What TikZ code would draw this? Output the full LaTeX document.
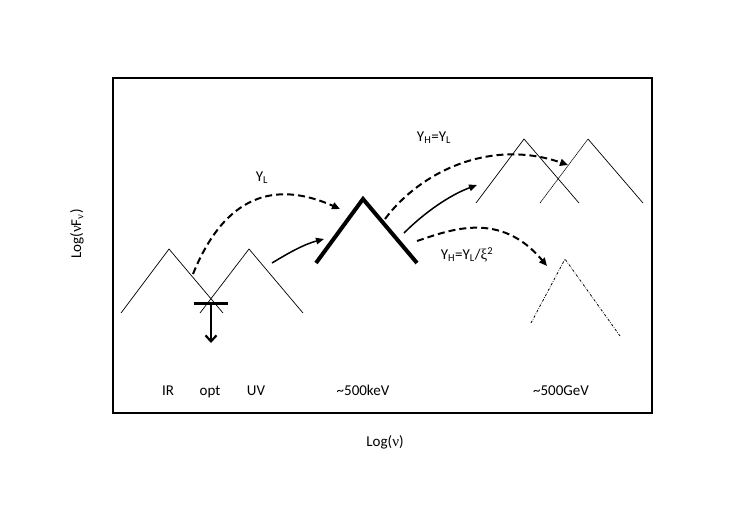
\documentclass[tikz,border=0pt]{standalone}
\usepackage{fontspec}
\setmainfont{Carlito}
\newfontfamily\grk{Liberation Serif}
\usetikzlibrary{arrows.meta}
\begin{document}
\begin{tikzpicture}[x=1pt,y=-1pt,
  lbl/.style={font=\fontsize{15}{18}\selectfont, inner sep=0pt},
  thinpeak/.style={line width=0.7pt},
  dasharrow/.style={line width=2pt, dash pattern=on 7pt off 4pt, -{Triangle[length=8pt,width=7pt]}},
  solarrow/.style={line width=1.5pt, -{Triangle[length=8pt,width=6.5pt]}}]
\useasboundingbox (0,0) rectangle (747,528);
\draw[line width=1.6pt] (113,78) rectangle (652,413);
% IR and UV peaks
\coordinate (irL) at (121,313); \coordinate (irT) at (169,249); \coordinate (irR) at (223,313);
\coordinate (uvL) at (200,313); \coordinate (uvT) at (249,249); \coordinate (uvR) at (303,313);
\draw[thinpeak] (irL) -- (irT) -- (irR);
\draw[thinpeak] (uvL) -- (uvT) -- (uvR);
% optical upper limit
\coordinate (barL) at (194,303); \coordinate (barR) at (228,303);
\coordinate (ulTop) at (211,303); \coordinate (ulBot) at (211,343);
\draw[line width=3pt] (barL) -- (barR);
\draw[line width=2.2pt, -{Straight Barb[length=6pt,width=11pt]}] (ulTop) -- (ulBot);
% keV peak
\coordinate (kL) at (316,263); \coordinate (kT) at (363,199); \coordinate (kR) at (417,263);
\draw[line width=4pt] (kL) -- (kT) -- (kR);
% TeV peaks
\coordinate (t1L) at (476,203); \coordinate (t1T) at (524,139); \coordinate (t1R) at (579,203);
\coordinate (t2L) at (540,203); \coordinate (t2T) at (588,139); \coordinate (t2R) at (643,203);
\draw[thinpeak] (t1L) -- (t1T) -- (t1R);
\draw[line width=0.6pt, dash pattern=on 1.5pt off 0.5pt] (t2L) -- (t2T);
\draw[thinpeak] (t2T) -- (t2R);
\coordinate (t3L) at (531,323); \coordinate (t3T) at (565,259); \coordinate (t3R) at (620,336);
\draw[line width=0.8pt, dash pattern=on 2.5pt off 1.5pt on 0.6pt off 1.5pt] (t3L) -- (t3T) -- (t3R);
% arrows
\coordinate (a1s) at (193,274); \coordinate (a1e) at (340,209);
\draw[dasharrow] (a1s) .. controls (225,195) and (275,180) .. (a1e);
\coordinate (a2s) at (272,263); \coordinate (a2e) at (324,239);
\draw[solarrow] (a2s) .. controls (290,252) and (305,244) .. (a2e);
\coordinate (a3s) at (385,219); \coordinate (a3e) at (568,165);
\draw[dasharrow] (a3s) .. controls (420,172) and (490,138) .. (a3e);
\coordinate (a4s) at (404,233); \coordinate (a4e) at (477,185);
\draw[solarrow] (a4s) .. controls (425,212) and (450,195) .. (a4e);
\coordinate (a5s) at (417,241); \coordinate (a5e) at (547,266);
\draw[dasharrow] (a5s) .. controls (450,230) and (500,210) .. (a5e);
% labels
\node[lbl] (lYL) at (262,178) {Y\textsubscript{L}};
\node[lbl] (lYH) at (434,138) {Y\textsubscript{H}=Y\textsubscript{L}};
\node[lbl] (lYH2) at (467,255) {Y\textsubscript{H}=Y\textsubscript{L}/{\grk ξ}\textsuperscript{2}};
\node[lbl, anchor=base] (lIR) at (168,395) {IR};
\node[lbl, anchor=base] (lopt) at (210,395) {opt};
\node[lbl, anchor=base] (lUV) at (256,395) {UV};
\node[lbl, anchor=base] (lkeV) at (363,395) {\textasciitilde500keV};
\node[lbl, anchor=base] (lGeV) at (561,395) {\textasciitilde500GeV};
\node[lbl] (lx) at (385,442) {Log({\grk ν})};
\node[lbl, rotate=90] (ly) at (77,234) {Log({\grk ν}F\textsubscript{{\grk ν}})};
\end{tikzpicture}
\end{document}
